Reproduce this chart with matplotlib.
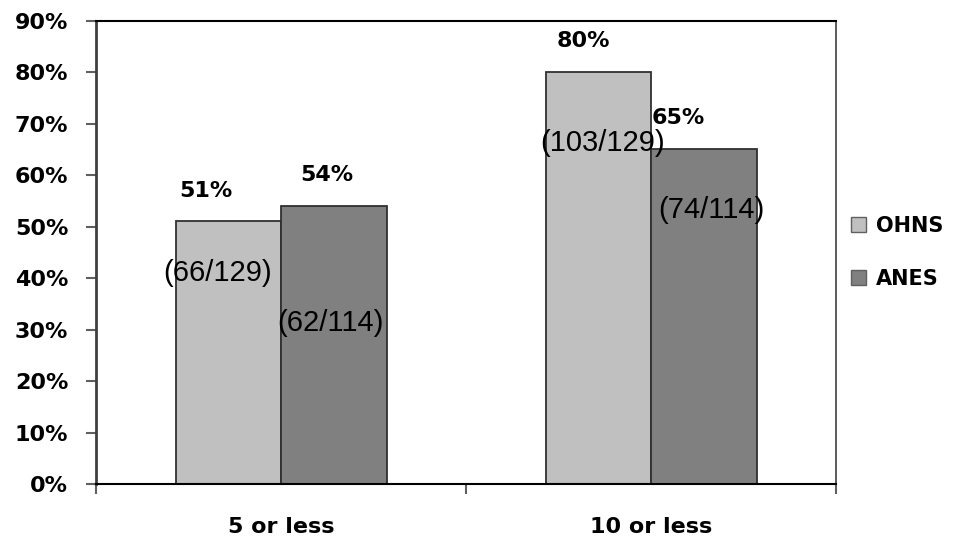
import numpy as np
import matplotlib
matplotlib.use("Agg")
import matplotlib.pyplot as plt
from matplotlib.patches import Patch

# data
categories = ["5 or less", "10 or less"]
groups = ["OHNS", "ANES"]
ohns_pct = [51, 80]
anes_pct = [54, 65]
ohns_frac = ["(66/129)", "(103/129)"]
anes_frac = ["(62/114)", "(74/114)"]
yticks = [0, 10, 20, 30, 40, 50, 60, 70, 80, 90]

colors = {"OHNS": "#c0c0c0", "ANES": "#808080"}

# label offsets (x in category units, y in percent points)
pct_dx = {"OHNS": [-0.06, -0.04], "ANES": [-0.02, -0.07]}
frac_dx = {"OHNS": [-0.03, 0.01], "ANES": [-0.01, 0.02]}
frac_dy = {"OHNS": [-10, -13.7], "ANES": [-22.7, -11.7]}

fig = plt.figure(figsize=(9.6, 5.42), dpi=100)
ax = fig.add_axes([0.1, 0.107, 0.771, 0.855])

x = np.arange(len(categories))
w = 0.285

bars1 = ax.bar(x - w / 2, ohns_pct, w, color=colors["OHNS"], edgecolor="#303030", linewidth=1.3)
bars2 = ax.bar(x + w / 2, anes_pct, w, color=colors["ANES"], edgecolor="#303030", linewidth=1.3)

bold = dict(fontfamily="DejaVu Sans", fontweight="bold", fontsize=16)
frac_font = dict(fontfamily="Liberation Sans", fontsize=21)

# percentage labels above the bars, fraction labels inside
for g, bars, pcts, fracs in [("OHNS", bars1, ohns_pct, ohns_frac), ("ANES", bars2, anes_pct, anes_frac)]:
    for i, (b, p, f) in enumerate(zip(bars, pcts, fracs)):
        cx = b.get_x() + b.get_width() / 2
        ax.text(cx + pct_dx[g][i], p + 6, f"{p}%", ha="center", va="center", **bold)
        ax.text(cx + frac_dx[g][i], p + frac_dy[g][i], f, ha="center", va="center", **frac_font)

ax.set_ylim(0, 90)
ax.set_xlim(-0.5, 1.5)
ax.set_yticks(yticks)
ax.set_yticklabels([f"{t}%" for t in yticks], **bold)
ax.tick_params(axis="y", direction="out", length=7, width=1.5, color="#606060", pad=13)

# category boundaries as major ticks, names as minor ticks
ax.set_xticks([-0.5, 0.5, 1.5])
ax.set_xticklabels([])
ax.tick_params(axis="x", which="major", direction="out", length=7, width=1.5, color="#606060")
ax.set_xticks(x, minor=True)
ax.set_xticklabels(categories, minor=True, **bold)
ax.tick_params(axis="x", which="minor", length=0, pad=24)

ax.spines["left"].set_color("#404040")
ax.spines["left"].set_linewidth(2)
ax.spines["bottom"].set_linewidth(1.5)
ax.spines["top"].set_linewidth(1.5)
ax.spines["right"].set_color("#404040")
ax.spines["right"].set_linewidth(1.2)

handles = [Patch(facecolor=colors[g], edgecolor="#606060", label=g) for g in groups]
leg = ax.legend(handles=handles, loc="center left", bbox_to_anchor=(0.995, 0.5),
                frameon=False, prop=dict(family="DejaVu Sans", weight="bold", size=15),
                handlelength=0.7, handleheight=0.7, handletextpad=0.5, labelspacing=1.6)

fig.savefig("out.png", dpi=100)
